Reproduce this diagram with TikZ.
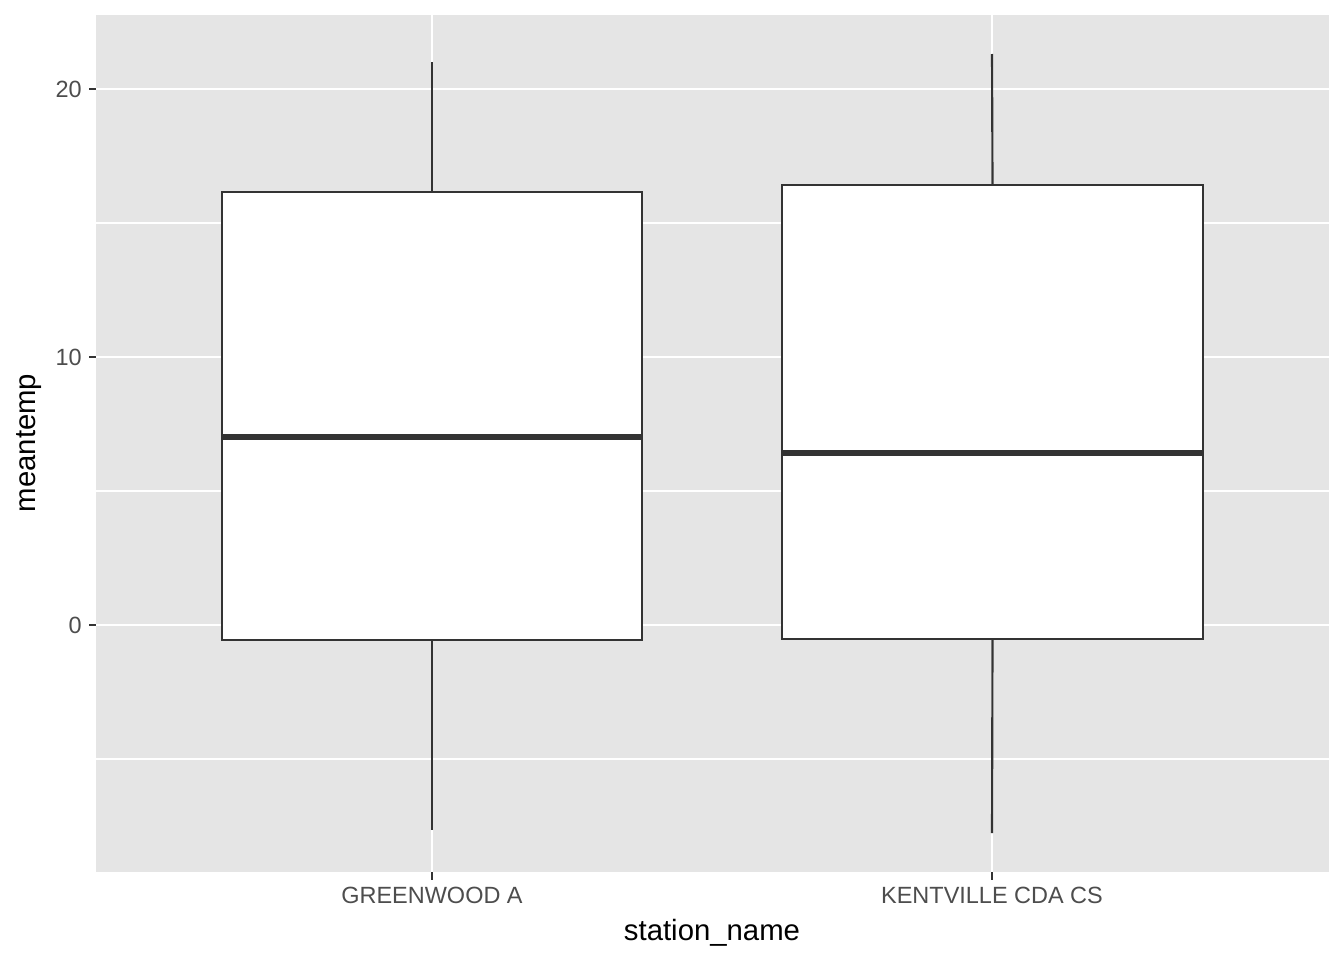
\documentclass[tikz,border=0pt]{standalone}
\usepackage{fontspec}
\setmainfont{Liberation Sans}
\definecolor{panelbg}{HTML}{E5E5E5}
\definecolor{boxline}{HTML}{333333}
\definecolor{axtext}{HTML}{4D4D4D}
\begin{document}
\begin{tikzpicture}[x=0.75pt,y=-0.75pt,
  major/.style={white,line width=1.6pt},
  minor/.style={white,line width=0.8pt},
  tickmark/.style={boxline,line width=1.6pt},
  boxshape/.style={draw=boxline,fill=white,line width=1.6pt},
  whisk/.style={boxline,line width=1.6pt},
  med/.style={boxline,line width=3.8pt},
  axlab/.style={text=axtext,font=\fontsize{17.6pt}{20pt}\selectfont,inner sep=0pt},
  axtitle/.style={text=black,font=\fontsize{22pt}{25pt}\selectfont,inner sep=0pt}]
\useasboundingbox (0,0) rectangle (1344,960);
\fill[white] (0,0) rectangle (1344,960);
% panel
\fill[panelbg] (96,15) rectangle (1329,872);
% minor gridlines
\foreach \yy in {223,491,759} \draw[minor] (96,\yy) -- (1329,\yy);
% major gridlines
\foreach \yy in {89,357,625} \draw[major] (96,\yy) -- (1329,\yy);
\foreach \xx in {432,992} \draw[major] (\xx,15) -- (\xx,872);
% ticks
\foreach \yy in {89,357,625} \draw[tickmark] (89,\yy) -- (96,\yy);
\foreach \xx in {432,992} \draw[tickmark] (\xx,872) -- (\xx,880);
% box 1
\coordinate (w1t) at (432,62);
\coordinate (w1b) at (432,830);
\node[boxshape,minimum width=420*0.75pt,minimum height=448*0.75pt,inner sep=0pt] (b1) at (432,416) {};
\draw[whisk] (w1t) -- (b1.north);
\draw[whisk] (b1.south) -- (w1b);
\coordinate (m1l) at (222,437);
\coordinate (m1r) at (642,437);
\draw[med] (m1l) -- (m1r);
% box 2
\coordinate (w2t) at (992,54);
\coordinate (w2b) at (992,833);
\node[boxshape,minimum width=421*0.75pt,minimum height=454*0.75pt,inner sep=0pt] (b2) at (992.5,412) {};
\draw[whisk] (w2t) -- (b2.north);
\draw[whisk] (b2.south) -- (w2b);
\coordinate (m2l) at (782,453);
\coordinate (m2r) at (1203,453);
\draw[med] (m2l) -- (m2r);
% axis labels
\node[axlab,anchor=east] (l20) at (82,89) {20};
\node[axlab,anchor=east] (l10) at (82,357) {10};
\node[axlab,anchor=east] (l0) at (82,625) {0};
\node[axlab,anchor=north] (lg) at (432,887) {GREENWOOD A};
\node[axlab,anchor=north] (lk) at (992,887) {KENTVILLE CDA CS};
\node[axtitle,anchor=base] (xt) at (712,940) {station\_name};
\node[axtitle,rotate=90,anchor=base] (yt) at (36,443) {meantemp};
\end{tikzpicture}
\end{document}
